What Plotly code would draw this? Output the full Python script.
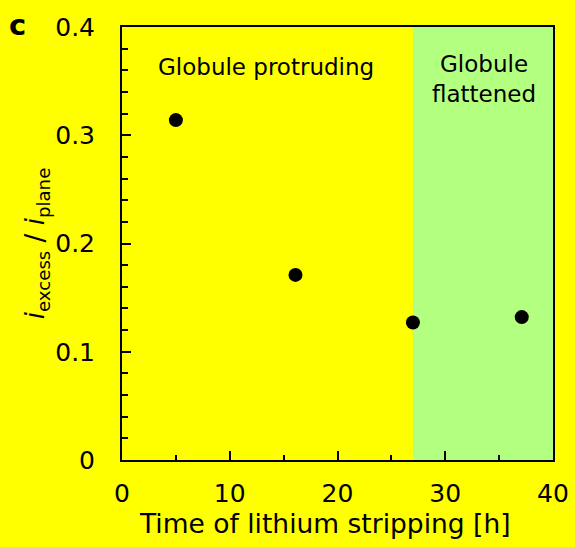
import plotly.graph_objects as go

time_h = [5, 16.1, 27, 37.1]
ratio = [0.314, 0.171, 0.127, 0.132]
x_ticks = [0, 10, 20, 30, 40]
y_ticks = [0, 0.1, 0.2, 0.3, 0.4]
y_tick_text = ["0", "0.1", "0.2", "0.3", "0.4"]
flattened_start = 27
flattened_end = 40
x_title = "Time of lithium stripping [h]"
y_title = "<i>i</i><sub>excess</sub> / <i>i</i><sub>plane</sub>"

FONT = "DejaVu Sans, Liberation Sans, Arial, sans-serif"

fig = go.Figure()
fig.add_trace(go.Scatter(
    x=time_h, y=ratio, mode="markers",
    marker=dict(color="black", size=14),
    showlegend=False, hoverinfo="skip",
))

fig.add_shape(type="rect", xref="x", yref="y",
              x0=flattened_start, x1=flattened_end, y0=0, y1=0.4,
              fillcolor="#B3FF80", line=dict(width=0), layer="below")

fig.add_annotation(x=13.36, y=0.363, xref="x", yref="y",
                   text="Globule protruding", showarrow=False,
                   xanchor="center", yanchor="middle",
                   font=dict(family=FONT, size=23, color="black"))
fig.add_annotation(x=33.55, y=0.352, xref="x", yref="y",
                   text="Globule<br>flattened", showarrow=False,
                   xanchor="center", yanchor="middle",
                   font=dict(family=FONT, size=23, color="black"))
fig.add_annotation(x=-0.242, y=1.005, xref="paper", yref="paper",
                   text="<b>c</b>", showarrow=False,
                   xanchor="center", yanchor="middle",
                   font=dict(family=FONT, size=29, color="black"))
fig.add_annotation(x=0.472, y=0, xref="paper", yref="paper",
                   text=x_title, showarrow=False,
                   xanchor="center", yanchor="top", yshift=-46,
                   font=dict(family=FONT, size=26.5, color="black"))

axis_common = dict(
    showgrid=False, zeroline=False, automargin=False,
    showline=True, linecolor="black", linewidth=2, mirror=True,
    ticks="inside", ticklen=9, tickwidth=2, tickcolor="black",
    tickfont=dict(family=FONT, size=25, color="black"),
)

fig.update_xaxes(
    range=[0, 40], tickvals=x_ticks, ticktext=[str(v) for v in x_ticks],
    minor=dict(ticks="inside", dtick=5, ticklen=5, tickwidth=2, tickcolor="black"),
    ticklabelstandoff=10,
    **axis_common,
)
fig.update_yaxes(
    range=[0, 0.4], tickvals=y_ticks, ticktext=y_tick_text,
    minor=dict(ticks="inside", dtick=0.02, ticklen=6, tickwidth=2, tickcolor="black"),
    title=dict(text=y_title,
               font=dict(family=FONT, size=26, color="black"), standoff=3),
    ticklabelstandoff=20,
    **axis_common,
)

fig.update_layout(
    width=575, height=547,
    margin=dict(l=122, r=22, t=27, b=87, autoexpand=False),
    paper_bgcolor="#FFFF00", plot_bgcolor="#FFFF00",
    font=dict(family=FONT, color="black"),
    hovermode=False,
)

fig.write_html(
    "out.html",
    config={"displayModeBar": False},
    post_script="document.body.style.margin='0';document.body.style.background='#FFFF00';document.documentElement.style.overflow='hidden';",
)
